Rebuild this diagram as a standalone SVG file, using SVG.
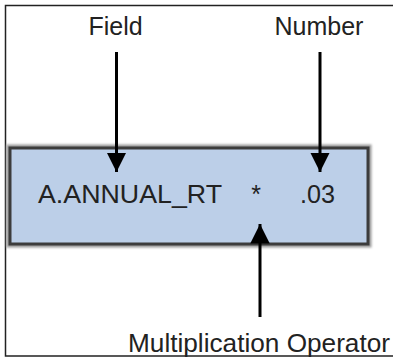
<svg xmlns="http://www.w3.org/2000/svg" width="393" height="358" viewBox="0 0 393 358">
  <style>
    .lbl { font-family: "Liberation Sans", Arial, sans-serif; font-size: 25px; fill: #222; }
    .conn { stroke: #000; stroke-width: 3; fill: none; }
  </style>
  <defs>
    <marker id="ah" viewBox="0 0 10 10" refX="10" refY="5" markerWidth="6.5" markerHeight="6.5" markerUnits="strokeWidth" orient="auto">
      <path d="M0,0 L10,5 L0,10 Z" fill="#000"/>
    </marker>
    <filter id="blur" x="-5%" y="-10%" width="110%" height="120%">
      <feGaussianBlur stdDeviation="0.8"/>
    </filter>
  </defs>
  <rect width="393" height="358" fill="#fff"/>
  <path d="M393,5.5 H5.5 V356 H393" fill="none" stroke="#222" stroke-width="1.5"/>

  <g id="expression">
    <rect x="9" y="147" width="360" height="98" fill="#bccfe8" stroke="#999" stroke-width="5" filter="url(#blur)"/>
    <rect x="10" y="148" width="358" height="96" fill="#bccfe8" stroke="#3c3c3c" stroke-width="3"/>
    <text class="lbl" x="38" y="203" textLength="184" lengthAdjust="spacingAndGlyphs">A.ANNUAL_RT</text>
    <text class="lbl" x="256" y="203" text-anchor="middle">*</text>
    <text class="lbl" x="300" y="203" textLength="35" lengthAdjust="spacingAndGlyphs">.03</text>
  </g>

  <g id="field">
    <text class="lbl" x="115.5" y="35" text-anchor="middle">Field</text>
  </g>
  <g id="number">
    <text class="lbl" x="319" y="35" text-anchor="middle">Number</text>
  </g>
  <g id="operator">
    <text class="lbl" x="128" y="352" textLength="262" lengthAdjust="spacingAndGlyphs">Multiplication Operator</text>
  </g>

  <g id="connectors">
    <line class="conn" x1="116.5" y1="52" x2="116.5" y2="172" marker-end="url(#ah)"/>
    <line class="conn" x1="320" y1="52" x2="320" y2="172" marker-end="url(#ah)"/>
    <line class="conn" x1="260" y1="317" x2="260" y2="224" marker-end="url(#ah)"/>
  </g>
</svg>
